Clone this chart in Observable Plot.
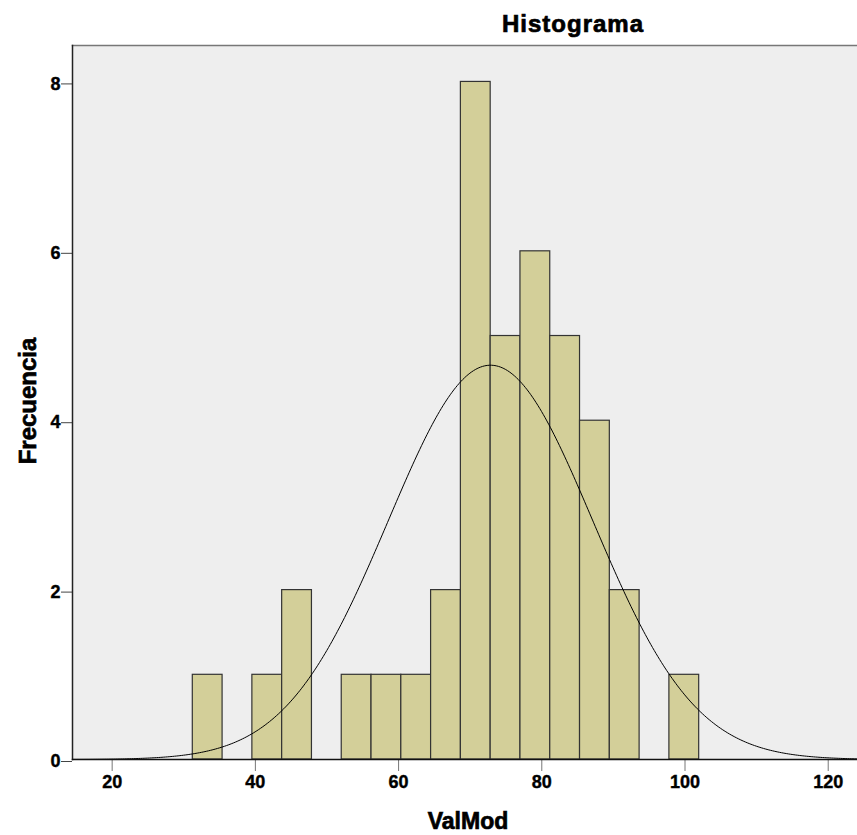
<!DOCTYPE html>
<html>
<head>
<meta charset="utf-8">
<script src="https://cdn.jsdelivr.net/npm/d3@7"></script>
<script src="https://cdn.jsdelivr.net/npm/@observablehq/plot@0.6"></script>
<style>
  html, body { margin: 0; padding: 0; background: #ffffff; }
  #chart { width: 857px; height: 835px; }
  svg { display: block; }
</style>
</head>
<body>
<div id="chart"></div>
<script>
// Histogram bins of ValMod (bin lower edge, upper edge, frequency)
const binLo = [31.26, 35.42, 39.58, 43.74, 47.90, 52.06, 56.22, 60.38, 64.54, 68.70, 72.86, 77.02, 81.18, 85.34, 89.50, 93.66, 97.82];
const binHi = [35.42, 39.58, 43.74, 47.90, 52.06, 56.22, 60.38, 64.54, 68.70, 72.86, 77.02, 81.18, 85.34, 89.50, 93.66, 97.82, 101.98];
const counts = [1, 0, 1, 2, 0, 1, 1, 1, 2, 8, 5, 6, 5, 4, 2, 0, 1];

// Fitted normal curve parameters (as shown by SPSS)
const meanVal = 72.84;
const sdVal = 14.26;
const nObs = 40;
const binWidth = 4.16;

const xTicks = [20, 40, 60, 80, 100, 120];
const yTicks = [0, 2, 4, 6, 8];

const bins = binLo.map((lo, i) => ({lo, hi: binHi[i], count: counts[i]})).filter(d => d.count > 0);

const xDomain = [14.46, 124.09];
const yDomain = [0, 8.43];

const curve = d3.range(xDomain[0], xDomain[1] + 0.001, 0.25).map(x => ({
  x,
  y: nObs * binWidth / (sdVal * Math.sqrt(2 * Math.PI)) * Math.exp(-0.5 * ((x - meanVal) / sdVal) ** 2)
}));

const font = "'Liberation Sans', Arial, Helvetica, sans-serif";

const chart = Plot.plot({
  width: 857,
  height: 835,
  marginLeft: 72,
  marginRight: 0,
  marginTop: 45,
  marginBottom: 76,
  style: {fontFamily: font, background: "#ffffff", overflow: "visible"},
  x: {domain: xDomain, label: null},
  y: {domain: yDomain, label: null},
  marks: [
    Plot.frame({fill: "#eeeeee", stroke: null}),
    Plot.rectY(bins, {x1: "lo", x2: "hi", y1: 0, y2: "count", fill: "#d3cf99", stroke: "#333333", strokeWidth: 1.2}),
    Plot.line(curve, {x: "x", y: "y", stroke: "#000000", strokeWidth: 1, curve: "linear"}),
    Plot.frame({anchor: "top", stroke: "#777777", strokeWidth: 1.5}),
    Plot.axisX({ticks: xTicks, tickSize: 12, tickPadding: 4, stroke: "#777777", fill: "#000000",
      fontSize: 18, fontWeight: "bold", tickFormat: d => String(d), label: null}),
    Plot.axisY({ticks: yTicks, tickSize: 11, tickPadding: 1, stroke: "#444444", fill: "#000000",
      fontSize: 18, fontWeight: "bold", dy: 2, tickFormat: d => String(d), label: null}),
    Plot.frame({anchor: "left", stroke: "#222222", strokeWidth: 1.5}),
    Plot.frame({anchor: "bottom", stroke: "#111111", strokeWidth: 1.5})
  ]
});

const svg = d3.select(chart);
// thicken tick label glyphs slightly
svg.selectAll("g[aria-label='x-axis tick label'] text, g[aria-label='y-axis tick label'] text")
  .attr("stroke", "#000").attr("stroke-width", 0.4).attr("paint-order", "stroke");

svg.append("text")
  .attr("x", 573).attr("y", 32)
  .attr("text-anchor", "middle")
  .attr("font-family", font).attr("font-weight", "bold").attr("font-size", 24)
  .attr("letter-spacing", "1px")
  .attr("stroke", "#000").attr("stroke-width", 0.7)
  .attr("fill", "#000").text("Histograma");
svg.append("text")
  .attr("x", 468).attr("y", 829)
  .attr("text-anchor", "middle")
  .attr("font-family", font).attr("font-weight", "bold").attr("font-size", 23)
  .attr("stroke", "#000").attr("stroke-width", 0.7)
  .attr("fill", "#000").text("ValMod");
svg.append("text")
  .attr("transform", "translate(36,401) rotate(-90)")
  .attr("text-anchor", "middle")
  .attr("font-family", font).attr("font-weight", "bold").attr("font-size", 24)
  .attr("stroke", "#000").attr("stroke-width", 0.7)
  .attr("fill", "#000").text("Frecuencia");

document.getElementById("chart").appendChild(chart);
</script>
</body>
</html>
